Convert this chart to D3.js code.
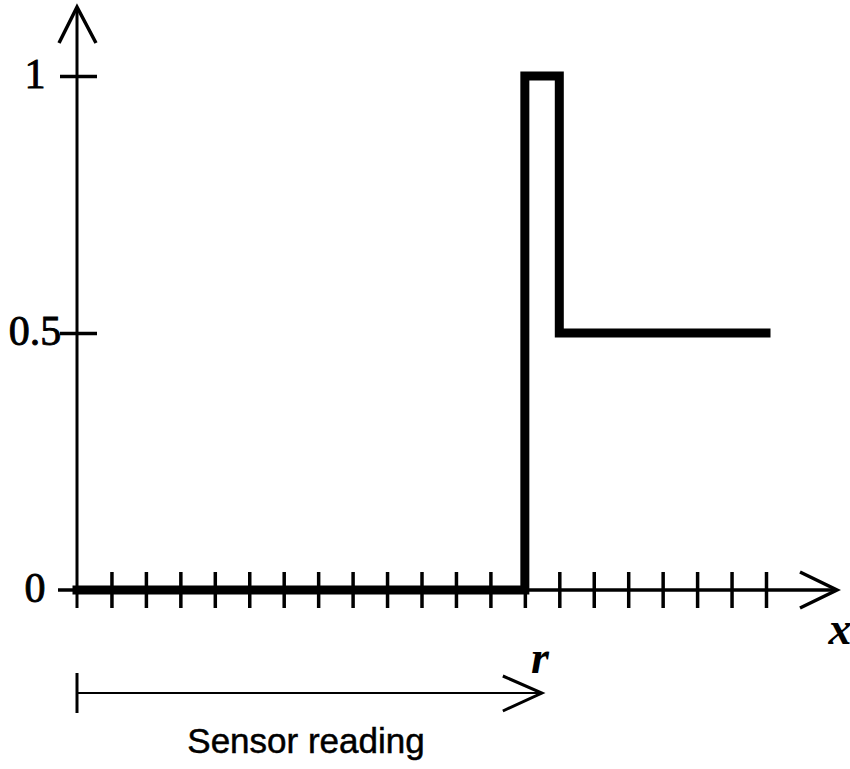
<!DOCTYPE html>
<html>
<head>
<meta charset="utf-8">
<script src="https://cdnjs.cloudflare.com/ajax/libs/d3/7.8.5/d3.min.js"></script>
<style>
  body { margin: 0; background: #fff; }
  svg { display: block; }
</style>
</head>
<body>
<div id="chart"></div>
<script>
// step function: 0 up to r, 1 for one unit, then 0.5
var stepX = [0, 13, 13, 14, 14, 20];
var stepY = [0, 0, 1, 1, 0.5, 0.5];

// ticks along the x axis (one per unit)
var xTicks = [1, 2, 3, 4, 5, 6, 7, 8, 9, 10, 11, 12, 13, 14, 15, 16, 17, 18, 19, 20];
var yTicks = [0, 0.5, 1];
var yTickLabels = ["0", "0.5", "1"];

var readingX = 13;
var readingLabel = "r";
var axisLabel = "x";
var readingText = "Sensor reading";

var width = 850, height = 769;

var svg = d3.select("#chart").append("svg")
    .attr("width", width)
    .attr("height", height);

var x = d3.scaleLinear().domain([0, 20]).range([77, 766]);
var y = d3.scaleLinear().domain([0, 1]).range([590, 76]);

var ink = "#000";

// y axis line with open arrow head
svg.append("line")
    .attr("x1", x(0)).attr("x2", x(0))
    .attr("y1", y(0) + 18).attr("y2", 7)
    .attr("stroke", ink).attr("stroke-width", 3);
svg.append("path")
    .attr("d", "M" + (x(0) - 18) + ",43L" + x(0) + ",7L" + (x(0) + 19) + ",43")
    .attr("fill", "none").attr("stroke", ink).attr("stroke-width", 3.5);

// x axis line with open arrow head
svg.append("line")
    .attr("x1", x(0) - 19).attr("x2", 837)
    .attr("y1", y(0)).attr("y2", y(0))
    .attr("stroke", ink).attr("stroke-width", 3.5);
svg.append("path")
    .attr("d", "M800," + (y(0) - 18) + "L837," + y(0) + "L800," + (y(0) + 18))
    .attr("fill", "none").attr("stroke", ink).attr("stroke-width", 3.5);

// x ticks crossing the axis
var xAxis = svg.append("g")
    .attr("transform", "translate(0," + (y(0) - 18) + ")")
    .call(d3.axisBottom(x).tickValues(xTicks).tickSize(36).tickFormat(""));
xAxis.select(".domain").remove();
xAxis.selectAll(".tick line").attr("stroke", ink).attr("stroke-width", 3.5);

// y ticks at 0.5 and 1 cross the axis
var yAxis = svg.append("g")
    .attr("transform", "translate(" + (x(0) - 17) + ",0)")
    .call(d3.axisRight(y).tickValues(yTicks.filter(function(d) { return d > 0; }))
        .tickSize(37).tickFormat(""));
yAxis.select(".domain").remove();
yAxis.selectAll(".tick line").attr("stroke", ink).attr("stroke-width", 3.5);

// y tick labels
svg.selectAll(".ylabel")
    .data(yTicks)
    .enter().append("text")
    .attr("class", "ylabel")
    .attr("x", 35)
    .attr("y", function(d) { return y(d) + 12; })
    .attr("text-anchor", "middle")
    .attr("stroke", ink).attr("stroke-width", 0.9)
    .style("font-family", "'Liberation Serif', 'Times New Roman', serif")
    .style("font-size", "42px")
    .text(function(d, i) { return yTickLabels[i]; });

// the step function
var line = d3.line()
    .x(function(d) { return x(d[0]); })
    .y(function(d) { return y(d[1]); });

svg.append("path")
    .datum(stepX.map(function(d, i) { return [d, stepY[i]]; }))
    .attr("d", line)
    .attr("fill", "none")
    .attr("stroke", ink)
    .attr("stroke-width", 9)
    .attr("stroke-linejoin", "miter")
    .attr("stroke-linecap", "square");

// axis label x
svg.append("text")
    .attr("x", 840).attr("y", 644)
    .attr("text-anchor", "middle")
    .style("font-family", "'Liberation Serif', 'Times New Roman', serif")
    .style("font-style", "italic").style("font-weight", "bold")
    .style("font-size", "46px")
    .text(axisLabel);

// r label
svg.append("text")
    .attr("x", x(readingX) + 15).attr("y", 673)
    .attr("text-anchor", "middle")
    .style("font-family", "'Liberation Serif', 'Times New Roman', serif")
    .style("font-style", "italic").style("font-weight", "bold")
    .style("font-size", "46px")
    .text(readingLabel);

// sensor reading arrow
var ay = 693;
svg.append("line")
    .attr("x1", x(0)).attr("x2", x(0))
    .attr("y1", ay - 20).attr("y2", ay + 20)
    .attr("stroke", ink).attr("stroke-width", 3);
svg.append("line")
    .attr("x1", x(0)).attr("x2", x(readingX) + 17)
    .attr("y1", ay).attr("y2", ay)
    .attr("stroke", ink).attr("stroke-width", 2);
svg.append("path")
    .attr("d", "M" + (x(readingX) - 22) + "," + (ay - 17) + "L" + (x(readingX) + 17) + "," + ay +
        "L" + (x(readingX) - 22) + "," + (ay + 18))
    .attr("fill", "none").attr("stroke", ink).attr("stroke-width", 3);

svg.append("text")
    .attr("x", 306).attr("y", 753)
    .attr("text-anchor", "middle")
    .attr("stroke", ink).attr("stroke-width", 0.5)
    .style("font-family", "'Liberation Sans', Arial, sans-serif")
    .style("font-size", "35px")
    .text(readingText);
</script>
</body>
</html>
